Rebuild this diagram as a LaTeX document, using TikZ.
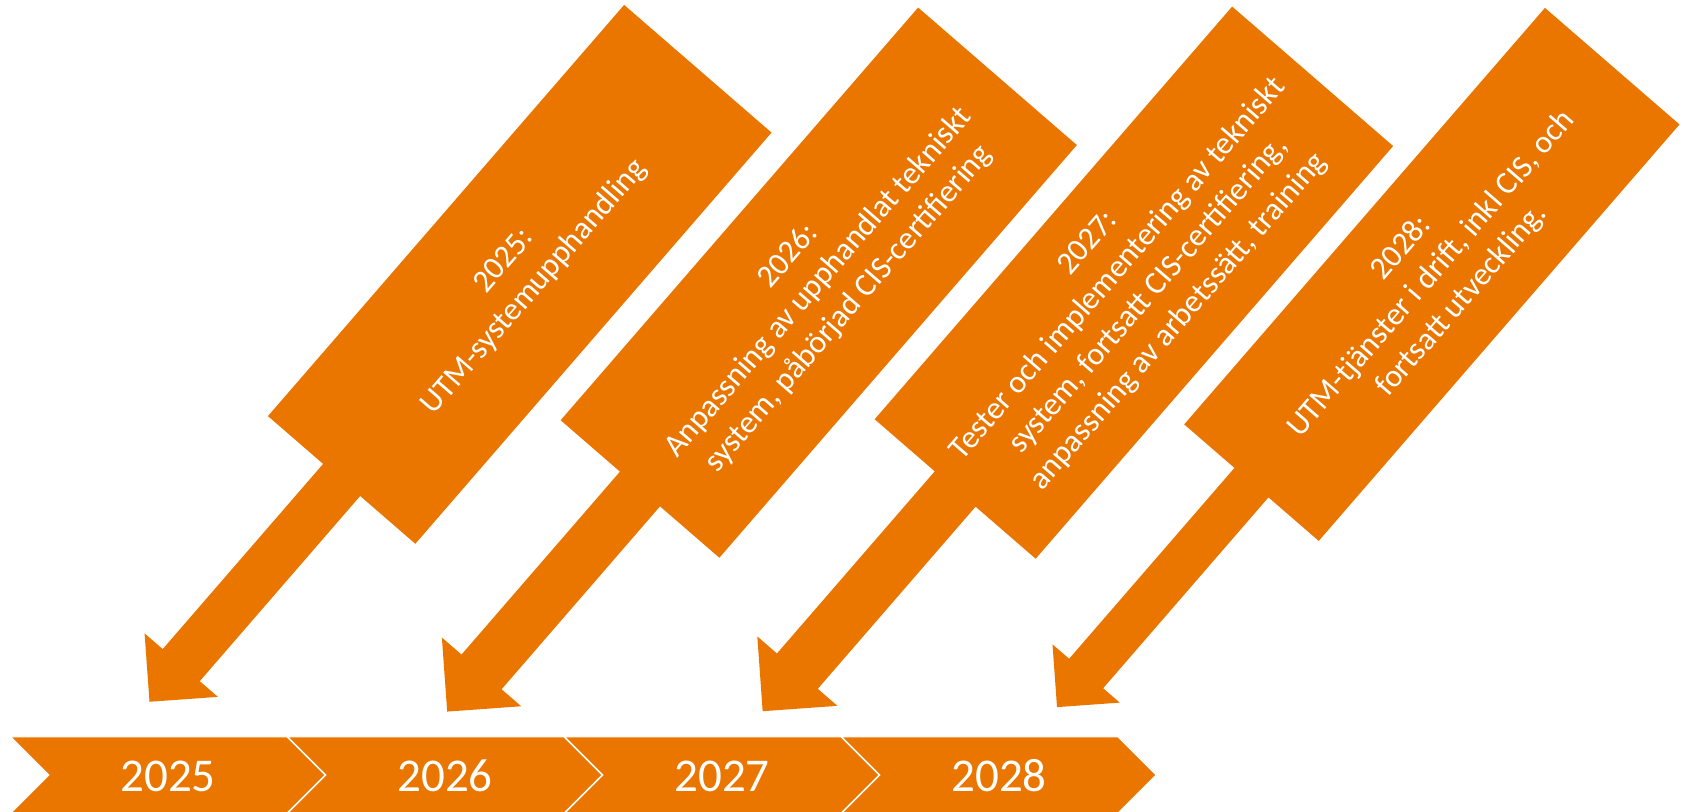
\documentclass[tikz,border=0pt]{standalone}
\usepackage{fontspec}
\setmainfont{Carlito}
\definecolor{utmorange}{RGB}{234,118,0}

\begin{document}
\begin{tikzpicture}[x=0.5pt,y=0.5pt,inner sep=0pt,outer sep=0pt,
callout/.style={fill=utmorange},
chevron/.style={fill=utmorange,draw=white,line width=0.5pt},
calltext/.style={text=white,align=center,rotate=49.1,font=\fontsize{16}{20}\selectfont},
yeartext/.style={text=white,font=\fontsize{23.5}{28}\selectfont}]

\useasboundingbox (0,0) rectangle (1684,812);

\begin{scope}[shift={(341.65,332.05)},rotate=-40.9]
\fill[callout] (-97.5,0) -- (-97.5,544) -- (97.5,544) -- (97.5,0) -- (24.5,0) -- (24.5,-245) -- (48.5,-245) -- (0,-293.5) -- (-48.5,-245) -- (-24.5,-245) -- (-24.5,0) -- cycle;
\node[calltext] (c2025) at (0,272) {2025:\\UTM-systemupphandling};
\end{scope}

\begin{scope}[shift={(640,323)},rotate=-40.9]
\fill[callout] (-105,0) -- (-105,546) -- (105,546) -- (105,0) -- (26.5,0) -- (26.5,-242) -- (52.5,-242) -- (0,-294.5) -- (-52.5,-242) -- (-26.5,-242) -- (-26.5,0) -- cycle;
\node[calltext] (c2026) at (0,273) {2026:\\Anpassning av upphandlat tekniskt\\system, påbörjad CIS-certifiering};
\end{scope}

\begin{scope}[shift={(955.15,323)},rotate=-40.9]
\fill[callout] (-106.5,0) -- (-106.5,546) -- (106.5,546) -- (106.5,0) -- (27,0) -- (27,-241) -- (53,-241) -- (0,-294) -- (-53,-241) -- (-27,-241) -- (-27,0) -- cycle;
\node[calltext] (c2027) at (0,273) {2027:\\Tester och implementering av tekniskt\\system, fortsatt CIS-certifiering,\\anpassning av arbetssätt,  training};
\end{scope}

\begin{scope}[shift={(1251.45,329.35)},rotate=-40.9]
\fill[callout] (-89,0) -- (-89,551) -- (89,551) -- (89,0) -- (22.5,0) -- (22.5,-252.5) -- (44.5,-252.5) -- (0,-297) -- (-44.5,-252.5) -- (-22.5,-252.5) -- (-22.5,0) -- cycle;
\node[calltext] (c2028) at (0,275.5) {2028:\\UTM-tjänster i drift, inkl CIS, och\\fortsatt utveckling.};
\end{scope}

% timeline
\filldraw[chevron] (11,75) -- (287,75) -- (325,37) -- (287,-1) -- (11,-1) -- (49,37) -- cycle;
\filldraw[chevron] (288,75) -- (564,75) -- (602,37) -- (564,-1) -- (288,-1) -- (326,37) -- cycle;
\filldraw[chevron] (565,75) -- (841,75) -- (879,37) -- (841,-1) -- (565,-1) -- (603,37) -- cycle;
\filldraw[chevron] (842,75) -- (1118,75) -- (1156,37) -- (1118,-1) -- (842,-1) -- (880,37) -- cycle;

\node[yeartext] (y2025) at (168,36) {2025};
\node[yeartext] (y2026) at (445,36) {2026};
\node[yeartext] (y2027) at (722,36) {2027};
\node[yeartext] (y2028) at (999,36) {2028};
\end{tikzpicture}
\end{document}
